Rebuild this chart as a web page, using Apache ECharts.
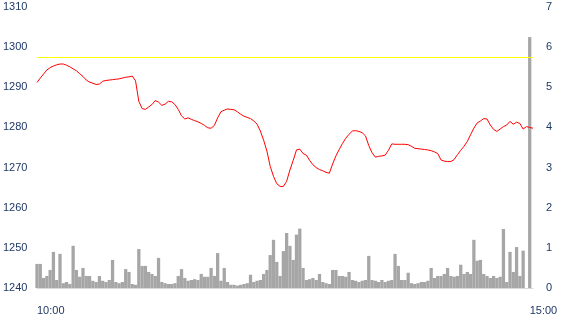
<!DOCTYPE html>
<html>
<head>
<meta charset="utf-8">
<script src="https://cdn.jsdelivr.net/npm/echarts@6/dist/echarts.min.js"></script>
<style>html,body{margin:0;padding:0;background:#fff}#c{width:570px;height:330px}</style>
</head>
<body>
<div id="c"></div>
<script>
// time labels shown on the x axis
var tickLabels = ['10:00', '15:00'];
// categories: 2-minute steps from 10:00 to 15:02
var startMinute = 600, stepMinutes = 2, pointCount = 152;
var categories = [];
for (var k = 0; k < pointCount; k++) {
  var m = startMinute + k * stepMinutes;
  var hh = Math.floor(m / 60), mm = m % 60;
  categories.push((hh < 10 ? '0' : '') + hh + ':' + (mm < 10 ? '0' : '') + mm);
}
// price (left axis)
var price = [
  1291.2,1292.3,1293.3,1294.3,1294.9,1295.3,1295.6,1295.8,1295.8,1295.5,
  1295.1,1294.6,1294.1,1293.4,1292.7,1291.8,1291.3,1291.0,1290.7,1290.8,
  1291.5,1291.7,1291.8,1291.9,1292.0,1292.1,1292.3,1292.5,1292.6,1292.8,
  1291.6,1286.5,1284.7,1284.5,1285.1,1285.7,1286.7,1286.3,1285.5,1285.8,
  1286.5,1286.4,1285.7,1284.5,1282.9,1282.1,1282.4,1282.0,1281.7,1281.4,
  1281.0,1280.5,1279.9,1279.8,1280.5,1282.4,1283.9,1284.3,1284.6,1284.5,
  1284.4,1283.9,1283.3,1282.8,1282.5,1282.2,1281.6,1280.8,1279.1,1276.8,
  1274.1,1270.3,1267.8,1266.0,1265.3,1265.3,1266.6,1269.4,1271.8,1274.4,
  1274.6,1273.5,1273.1,1271.8,1270.7,1270.0,1269.5,1269.2,1268.8,1268.6,
  1270.9,1272.9,1274.5,1276.0,1277.3,1278.3,1279.1,1279.2,1279.0,1278.7,
  1277.9,1275.5,1273.7,1272.6,1272.8,1272.9,1273.1,1274.3,1275.9,1275.8,
  1275.8,1275.8,1275.8,1275.7,1275.3,1274.8,1274.7,1274.6,1274.5,1274.4,
  1274.2,1273.9,1273.5,1271.9,1271.6,1271.5,1271.5,1272.0,1273.2,1274.3,
  1275.3,1276.5,1278.2,1279.8,1281.1,1281.6,1282.2,1282.1,1280.6,1279.5,
  1279.0,1279.6,1280.2,1280.6,1281.5,1280.8,1281.3,1281.0,1279.6,1280.2,
  1280.0,1279.8
];
// volume (right axis)
var volume = [
  0.6,0.6,0.25,0.3,0.45,0.9,0.2,0.85,0.12,0.15,
  0.1,1.05,0.45,0.28,0.5,0.3,0.3,0.18,0.15,0.3,
  0.18,0.15,0.2,0.7,0.15,0.12,0.15,0.47,0.4,0.1,
  0.08,0.97,0.55,0.55,0.4,0.35,0.3,0.75,0.15,0.12,
  0.1,0.1,0.12,0.3,0.47,0.25,0.18,0.2,0.22,0.2,
  0.35,0.28,0.28,0.5,0.3,0.87,0.18,0.5,0.15,0.08,
  0.08,0.06,0.08,0.1,0.12,0.33,0.15,0.18,0.2,0.35,
  0.45,0.82,1.2,0.65,0.3,0.92,1.37,1.05,0.7,1.33,
  1.48,0.5,0.2,0.22,0.25,0.2,0.35,0.15,0.12,0.1,
  0.45,0.45,0.3,0.3,0.28,0.4,0.2,0.18,0.15,0.18,
  0.2,0.8,0.2,0.18,0.15,0.2,0.15,0.18,0.2,0.85,
  0.55,0.2,0.2,0.38,0.12,0.1,0.12,0.15,0.15,0.18,
  0.5,0.25,0.3,0.3,0.35,0.5,0.3,0.28,0.3,0.58,
  0.35,0.4,0.35,1.2,0.68,0.7,0.35,0.3,0.25,0.3,
  0.25,0.28,1.47,0.15,0.9,0.4,1.02,0.3,0.93,0,
  6.25,0
];
var prevClose = 1297.5;

var labelColor = '#1f3864';
var fontFamily = 'Liberation Sans, Arial, sans-serif';
var chart = echarts.init(document.getElementById('c'), null, {renderer: 'canvas'});
chart.setOption({
  animation: false,
  backgroundColor: '#ffffff',
  grid: {left: 37, right: 37, top: 7, bottom: 42, containLabel: false},
  xAxis: {
    type: 'category',
    data: categories,
    boundaryGap: false,
    axisLine: {show: true, lineStyle: {color: '#d9d9d9', width: 1}},
    axisTick: {show: false},
    splitLine: {show: false},
    axisLabel: {
      interval: function (idx, val) { return tickLabels.indexOf(val) >= 0; },
      align: 'left',
      margin: 17,
      color: labelColor,
      fontSize: 11,
      fontFamily: fontFamily
    }
  },
  yAxis: [{
    type: 'value',
    min: 1240, max: 1310, interval: 10,
    axisLine: {show: false},
    axisTick: {show: false},
    splitLine: {show: false},
    axisLabel: {align: 'left', margin: 34, color: labelColor, fontSize: 11, fontFamily: fontFamily,
      formatter: function (v) { return String(v); }}
  }, {
    type: 'value',
    min: 0, max: 7, interval: 1,
    position: 'right',
    axisLine: {show: false},
    axisTick: {show: false},
    splitLine: {show: false},
    axisLabel: {align: 'left', margin: 13, color: labelColor, fontSize: 11, fontFamily: fontFamily,
      formatter: function (v) { return String(v); }}
  }],
  series: [{
    type: 'bar',
    yAxisIndex: 1,
    data: volume,
    barCategoryGap: '0%',
    itemStyle: {color: '#a6a6a6'},
    silent: true
  }, {
    type: 'line',
    yAxisIndex: 0,
    data: price,
    symbol: 'none',
    lineStyle: {color: '#ff0000', width: 1},
    silent: true,
    markLine: {
      silent: true,
      symbol: ['none', 'none'],
      label: {show: false},
      lineStyle: {color: '#ffff00', width: 1, type: 'solid'},
      data: [{yAxis: prevClose}]
    }
  }]
});
</script>
</body>
</html>
